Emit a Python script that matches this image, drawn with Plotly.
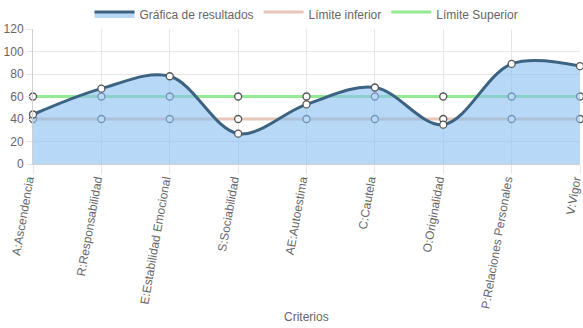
import plotly.graph_objects as go

# Criteria and scores
categorias = ["A:Ascendencia", "R:Responsabilidad", "E:Estabilidad Emocional",
              "S:Sociabilidad", "AE:Autoestima", "C:Cautela", "O:Originalidad",
              "P:Relaciones Personales", "V:Vigor"]
resultados = [44, 67, 78, 27, 53, 68, 35, 89, 87]
limite_inferior = [40, 40, 40, 40, 40, 40, 40, 40, 40]
limite_superior = [60, 60, 60, 60, 60, 60, 60, 60, 60]
y_ticks = [0, 20, 40, 60, 80, 100, 120]

x = list(range(len(categorias)))
marker_style = dict(size=7, color="white", line=dict(color="#555", width=1.3))
font_family = "Liberation Sans, Arial, sans-serif"


def add_series(fig, values, name, color, fill_color, rank, spline=False, fill="toself"):
    line = dict(color=color, width=3)
    if spline:
        line.update(shape="spline", smoothing=1.0)
    fig.add_trace(go.Scatter(
        x=x, y=values, name=name, mode="lines", line=line,
        fill=fill, fillcolor=fill_color, cliponaxis=False, legendrank=rank,
    ))
    fig.add_trace(go.Scatter(
        x=x, y=values, mode="markers", marker=marker_style,
        showlegend=False, cliponaxis=False, hoverinfo="skip",
    ))


fig = go.Figure()

# limit lines first so the translucent result area sits on top of them
add_series(fig, limite_inferior, "Límite inferior", "#e8c6ba",
           "rgba(255,255,255,0)", 2)
add_series(fig, limite_superior, "Límite Superior", "#93ea93",
           "rgba(255,255,255,0)", 3)
add_series(fig, resultados, "Gráfica de resultados", "#3d6383",
           "rgba(135,190,240,0.6)", 1, spline=True, fill="tozeroy")

fig.update_layout(
    width=583, height=328,
    margin=dict(l=33, r=3, t=29, b=164, autoexpand=False),
    paper_bgcolor="white", plot_bgcolor="white",
    font=dict(family=font_family, size=12, color="#666"),
    showlegend=True,
    legend=dict(orientation="h", x=0.5, xanchor="center",
                yref="container", y=(328 - 14) / 328, yanchor="middle",
                traceorder="normal", font=dict(size=12, color="#666"),
                itemwidth=40, bgcolor="rgba(0,0,0,0)"),
    xaxis=dict(
        range=[0, len(categorias) - 1], tickmode="array", tickvals=x,
        ticktext=categorias, tickangle=-80, showgrid=True,
        gridcolor="#e6e6e6", ticks="outside", ticklen=9, tickcolor="#e6e6e6",
        showline=True, linecolor="#d0d0d0", zeroline=False, fixedrange=True,
        ticklabeloverflow="allow", automargin=False,
        ticklabelshift=-5, ticklabelstandoff=-6,
    ),
    yaxis=dict(
        range=[0, 120], tickmode="array", tickvals=y_ticks, showgrid=True,
        gridcolor="#e6e6e6", ticks="outside", ticklen=6, tickcolor="#e6e6e6",
        showline=True, linecolor="#d0d0d0", zeroline=False, fixedrange=True,
        automargin=False,
    ),
    annotations=[dict(text="Criterios", xref="paper", yref="paper", x=0.5,
                      y=-(317 - 164) / 135, xanchor="center", yanchor="middle",
                      showarrow=False, font=dict(size=12, color="#666"))],
)

fig.write_html("out.html")
